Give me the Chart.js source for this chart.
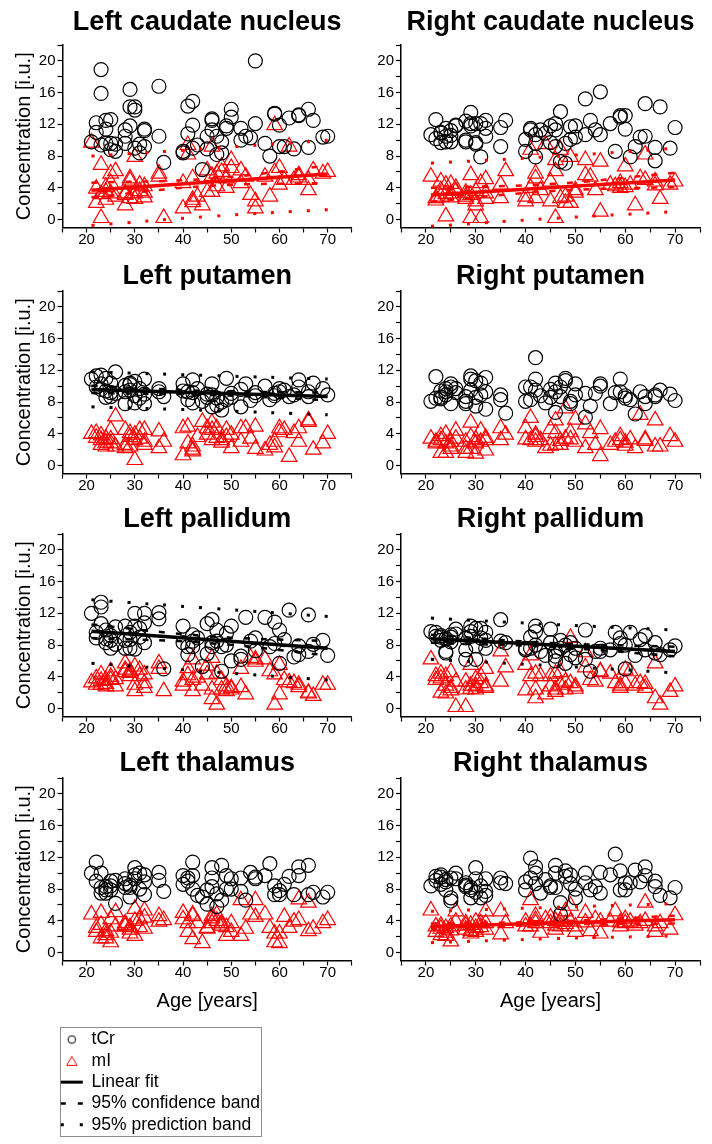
<!DOCTYPE html>
<html>
<head>
<meta charset="utf-8">
<script src="https://cdn.jsdelivr.net/npm/chart.js@4.4.0/dist/chart.umd.min.js"></script>
<style>
  html, body { margin: 0; padding: 0; background: #fff; width: 712px; height: 1144px; overflow: hidden; }
  canvas { position: absolute; }
  #legendBox { position: absolute; left: 60px; top: 1027px; width: 202px; height: 110px; border: 1px solid #8c8c8c; box-sizing: border-box; }
</style>
</head>
<body>
<canvas id="p0" width="362" height="253" style="left:0px;top:0px"></canvas>
<canvas id="p1" width="362" height="253" style="left:350px;top:0px"></canvas>
<canvas id="p2" width="362" height="253" style="left:0px;top:246px"></canvas>
<canvas id="p3" width="362" height="253" style="left:350px;top:246px"></canvas>
<canvas id="p4" width="362" height="253" style="left:0px;top:489px"></canvas>
<canvas id="p5" width="362" height="253" style="left:350px;top:489px"></canvas>
<canvas id="p6" width="362" height="283" style="left:0px;top:733px"></canvas>
<canvas id="p7" width="362" height="283" style="left:350px;top:733px"></canvas>
<div id="legendBox"></div>
<canvas id="legend" width="420" height="116" style="left:57px;top:1027px"></canvas>

<script>
// ages of the subjects (same people in every panel)
const ages = [21, 22, 22, 23, 23, 23, 24, 24, 24, 25, 25, 25, 26, 26,
  28, 28, 28, 29, 29, 29, 30, 30, 30, 31, 31, 32, 32, 32, 35, 35, 36,
  40, 40, 41, 41, 42, 42, 42, 43, 44, 45, 45, 46, 46, 46, 47, 47, 48, 48, 49, 49, 50, 50,
  52, 52, 53, 54, 55, 55, 57, 58, 59, 59, 60, 60, 61, 62, 63, 64, 64, 66, 66, 67, 69, 70];

const leftCaudateTCr = [9.8, 12.2, 11.0, 18.9, 15.9, 9.4, 12.5, 11.4, 9.6, 12.6, 9.6, 8.8, 9.5, 8.6,
  11.3, 10.5, 9.6, 16.4, 14.2, 11.8, 14.2, 13.8, 9.0, 9.5, 8.4, 11.4, 9.2, 11.2, 16.8, 10.5, 7.2,
  8.4, 8.6, 14.3, 10.8, 14.9, 11.9, 9.0, 9.4, 6.3, 10.5, 8.9, 12.7, 11.3, 12.5, 10.5, 8.2, 9.8, 8.4, 11.8, 11.5, 13.9, 12.9,
  11.5, 10.0, 10.5, 10.3, 20.0, 12.1, 9.6, 8.0, 13.4, 13.3, 11.9, 9.2, 9.2, 12.8, 8.9, 13.2, 13.1, 13.9, 9.1, 12.5, 10.4, 10.5];
const leftCaudateMI = [9.7, 2.1, 3.9, 6.9, 0.2, 3.2, 2.5, 3.5, 4.1, 5.8, 3.3, 4.6, 6.1, 2.9,
  1.8, 3.1, 3.3, 5.2, 2.7, 4.9, 7.9, 3.3, 2.6, 4.4, 3.6, 2.8, 4.2, 3.4, 5.8, 5.4, 0.2,
  1.4, 4.6, 9.4, 8.2, 5.2, 2.5, 2.2, 2.9, 1.8, 6.2, 3.5, 9.2, 3.5, 5.5, 5.8, 4.2, 6.7, 6.0, 4.0, 5.2, 7.5, 6.5,
  6.2, 4.6, 5.4, 3.1, 2.3, 1.4, 5.4, 2.9, 11.9, 6.0, 6.5, 4.4, 5.0, 9.2, 5.0, 5.6, 5.3, 5.0, 3.7, 6.2, 5.8, 6.0];

const rightCaudateTCr = [10.7, 12.6, 10.2, 9.7, 10.9, 11.0, 11.5, 10.5, 9.8, 11.2, 9.8, 10.6, 11.9, 11.8,
  12.4, 9.8, 10.0, 13.5, 12.1, 11.8, 12.1, 9.7, 9.5, 12.1, 7.9, 12.5, 11.5, 10.5, 11.6, 9.2, 12.5,
  10.1, 8.6, 11.5, 11.3, 10.7, 9.6, 7.9, 11.3, 10.9, 11.8, 9.7, 12.1, 11.3, 9.2, 13.6, 7.3, 9.6, 7.1, 11.7, 10.1, 11.8, 10.4,
  15.2, 10.7, 12.5, 11.3, 16.1, 10.7, 12.1, 8.6, 13.1, 12.9, 13.1, 11.4, 7.9, 9.2, 10.4, 14.6, 10.5, 7.4, 9.1, 14.2, 9.0, 11.6];
const rightCaudateMI = [5.4, 2.7, 2.4, 4.8, 3.7, 2.9, 0.4, 4.4, 3.2, 4.5, 3.3, 2.8, 3.6, 4.0,
  2.9, 3.4, 2.6, 5.6, 0.2, 3.1, 2.3, 1.8, 3.6, 0.2, 4.6, 5.1, 2.6, 3.3, 4.4, 2.7, 6.1,
  2.9, 2.3, 8.8, 4.0, 5.8, 5.2, 2.7, 3.7, 9.5, 4.8, 2.3, 7.5, 6.1, 0.2, 8.8, 2.7, 2.9, 2.1, 7.9, 2.1, 3.7, 3.4,
  5.6, 7.5, 5.4, 3.7, 7.3, 1.0, 4.4, 4.2, 4.6, 4.0, 6.7, 4.1, 4.4, 1.8, 5.2, 8.2, 5.0, 4.8, 4.3, 2.6, 4.4, 4.8];

const leftPutamenTCr = [10.9, 11.3, 9.9, 11.4, 10.3, 9.6, 11.0, 8.6, 9.4, 10.4, 8.7, 9.2, 11.8, 9.1,
  10.1, 7.8, 9.3, 10.4, 9.5, 10.2, 10.6, 7.9, 8.8, 9.7, 8.5, 10.9, 7.8, 9.0, 9.7, 9.3, 8.7,
  10.3, 9.4, 9.3, 8.3, 10.8, 7.9, 9.2, 9.7, 8.1, 9.0, 8.6, 10.3, 7.4, 8.9, 7.6, 8.5, 7.0, 8.0, 11.0, 8.3, 9.1, 8.6,
  9.6, 7.4, 10.3, 8.2, 9.2, 8.8, 10.0, 8.3, 9.1, 8.8, 9.7, 9.3, 9.5, 8.7, 8.9, 10.8, 9.9, 9.3, 8.7, 10.4, 9.7, 8.9];
const leftPutamenMI = [4.0, 4.1, 3.5, 3.2, 2.6, 3.8, 3.4, 2.9, 2.4, 4.5, 2.8, 3.3, 6.2, 2.4,
  4.5, 2.6, 2.2, 3.6, 4.1, 2.4, 3.2, 0.7, 3.9, 4.5, 3.4, 4.5, 3.0, 2.6, 4.3, 2.2, 3.0,
  4.7, 1.3, 4.9, 2.8, 2.0, 2.4, 1.8, 3.6, 5.5, 4.7, 3.9, 5.4, 3.2, 4.5, 4.7, 3.5, 3.2, 2.9, 4.5, 3.6, 3.9, 2.2,
  4.7, 3.0, 4.7, 3.4, 4.9, 2.1, 1.9, 2.6, 3.0, 2.3, 4.7, 4.2, 4.5, 1.1, 4.1, 4.7, 3.0, 5.7, 5.5, 2.0, 2.8, 4.0];

const rightPutamenTCr = [8.1, 11.2, 8.5, 8.6, 9.4, 8.4, 8.9, 9.7, 9.3, 10.3, 7.8, 9.9, 9.7, 9.2,
  8.7, 7.8, 8.1, 11.3, 10.9, 9.5, 10.7, 8.6, 7.5, 10.4, 8.9, 11.1, 9.3, 7.1, 8.9, 8.3, 6.6,
  9.9, 8.1, 9.9, 8.3, 13.6, 10.9, 9.5, 8.8, 7.9, 9.6, 8.6, 10.4, 9.3, 6.7, 9.9, 8.7, 11.0, 10.7, 8.1, 7.8, 10.3, 8.9,
  9.1, 6.1, 7.5, 9.1, 10.3, 10.0, 7.8, 9.2, 10.9, 9.3, 8.8, 8.5, 8.3, 6.5, 9.3, 8.7, 7.8, 8.7, 8.9, 9.5, 9.0, 8.2];
const rightPutamenMI = [3.4, 3.0, 2.8, 3.2, 1.6, 3.7, 4.0, 1.6, 2.8, 2.4, 3.0, 2.1, 4.4, 3.4,
  3.0, 1.6, 2.1, 5.4, 3.6, 2.1, 2.8, 1.5, 3.3, 4.4, 3.0, 3.2, 1.9, 3.5, 4.7, 3.2, 3.9,
  4.7, 3.3, 6.0, 3.2, 3.6, 3.0, 3.9, 3.2, 2.2, 4.6, 2.5, 5.7, 4.1, 2.6, 2.6, 3.1, 7.2, 3.4, 4.2, 3.3, 5.8, 3.0,
  5.2, 2.2, 4.1, 2.6, 4.6, 1.2, 2.6, 3.0, 3.7, 3.2, 2.5, 2.9, 3.3, 2.2, 6.4, 3.3, 3.1, 5.7, 2.4, 2.4, 3.7, 3.0];

const leftPallidumTCr = [12.0, 8.9, 9.6, 13.4, 12.8, 10.7, 9.9, 8.3, 8.8, 7.6, 8.6, 9.2, 10.3, 8.1,
  10.4, 8.6, 7.6, 9.6, 8.7, 7.6, 12.0, 10.4, 7.5, 10.1, 9.0, 12.0, 10.8, 8.3, 12.1, 11.3, 5.0,
  10.4, 8.3, 6.8, 7.8, 9.3, 7.8, 8.5, 8.9, 5.3, 10.7, 6.9, 11.2, 7.8, 8.3, 9.9, 8.5, 4.7, 7.8, 9.5, 8.0, 10.4, 6.0,
  6.6, 6.2, 11.5, 8.5, 8.9, 7.3, 11.5, 7.8, 10.9, 8.2, 9.9, 5.7, 8.7, 12.4, 6.5, 7.9, 6.8, 11.8, 7.2, 8.1, 8.6, 6.7];
const leftPallidumMI = [3.3, 3.0, 3.8, 4.3, 3.0, 3.5, 3.6, 2.8, 3.1, 4.7, 3.6, 4.0, 3.7, 2.8,
  5.7, 4.6, 4.9, 4.7, 4.1, 4.5, 5.3, 3.0, 2.2, 4.9, 4.1, 4.3, 3.2, 2.6, 5.7, 5.0, 2.2,
  3.4, 2.9, 5.1, 4.2, 6.2, 2.2, 3.6, 3.9, 2.9, 5.4, 4.3, 6.4, 2.4, 1.2, 0.5, 4.4, 3.6, 2.4, 2.2, 2.8, 2.4, 2.6,
  5.0, 2.7, 1.8, 6.4, 6.2, 5.9, 6.2, 4.7, 0.5, 4.3, 5.5, 1.8, 3.6, 3.3, 3.2, 3.0, 2.7, 2.0, 1.9, 1.6, 3.0, 3.0];

const rightPallidumTCr = [9.7, 9.6, 9.1, 9.2, 8.6, 9.0, 7.2, 7.0, 8.8, 9.3, 8.4, 9.0, 10.0, 9.4,
  8.9, 7.4, 6.2, 10.4, 9.7, 9.1, 10.1, 7.9, 6.2, 10.1, 8.9, 9.6, 7.6, 8.6, 11.2, 8.5, 8.3,
  7.6, 7.4, 9.0, 7.6, 10.4, 9.7, 8.0, 7.2, 6.7, 10.0, 8.3, 7.2, 6.0, 6.6, 8.6, 7.6, 5.7, 8.0, 6.8, 8.3, 7.6, 6.4,
  9.9, 6.2, 4.7, 7.2, 7.2, 7.6, 7.4, 9.6, 8.9, 8.2, 5.0, 8.0, 9.6, 6.7, 8.7, 9.2, 7.4, 8.3, 7.0, 6.8, 7.4, 7.9];
const rightPallidumMI = [6.2, 4.1, 3.6, 4.4, 2.0, 3.8, 4.1, 2.9, 1.9, 4.6, 2.6, 2.3, 3.4, 0.2,
  3.4, 2.4, 0.2, 5.5, 2.9, 2.5, 3.7, 2.4, 2.8, 4.1, 3.2, 5.0, 2.8, 2.6, 7.2, 3.4, 5.2,
  5.5, 2.3, 6.7, 4.1, 4.4, 2.4, 1.3, 4.1, 1.8, 4.1, 2.8, 4.4, 2.4, 2.1, 4.6, 3.0, 3.4, 2.4, 8.9, 3.2, 2.8, 2.5,
  7.1, 5.2, 3.6, 3.4, 4.6, 4.7, 4.4, 3.2, 2.6, 2.9, 4.9, 3.2, 4.7, 2.9, 3.2, 3.1, 2.6, 5.7, 1.3, 0.5, 2.1, 2.8];

const leftThalamusTCr = [10.0, 11.4, 9.0, 10.0, 8.2, 7.5, 8.3, 7.5, 7.9, 9.0, 7.9, 8.4, 9.1, 6.2,
  9.3, 8.2, 8.7, 8.2, 7.0, 8.5, 10.7, 9.3, 9.8, 10.0, 8.0, 9.8, 8.9, 7.3, 10.1, 9.1, 7.7,
  9.7, 8.6, 9.4, 9.0, 11.4, 9.7, 8.0, 7.2, 7.0, 7.9, 6.1, 10.7, 9.4, 8.3, 7.4, 5.8, 11.0, 6.6, 9.7, 8.0, 9.3, 8.0,
  9.4, 7.7, 6.6, 10.1, 9.3, 9.5, 9.7, 11.2, 8.4, 7.3, 7.3, 7.8, 8.6, 9.6, 7.3, 10.8, 9.7, 11.0, 7.3, 7.6, 7.0, 7.6];
const leftThalamusMI = [4.8, 3.1, 2.6, 5.0, 3.5, 1.8, 2.7, 1.8, 2.2, 4.2, 2.5, 1.3, 5.1, 3.3,
  3.7, 3.3, 3.5, 2.9, 2.4, 3.2, 5.5, 2.1, 4.0, 4.2, 3.2, 5.3, 4.4, 3.0, 4.6, 3.9, 4.1,
  5.0, 4.2, 2.6, 3.7, 4.8, 1.7, 4.6, 3.7, 1.2, 3.1, 3.0, 4.6, 3.7, 4.3, 4.8, 4.0, 3.7, 3.4, 2.1, 3.2, 3.7, 2.6,
  6.6, 2.1, 3.0, 4.8, 6.6, 4.5, 4.8, 3.1, 2.4, 1.3, 1.2, 2.4, 4.5, 3.1, 3.9, 6.7, 4.1, 6.3, 2.7, 3.0, 3.7, 4.1];

const rightThalamusTCr = [8.4, 9.6, 9.1, 9.8, 8.6, 9.5, 9.2, 7.9, 8.9, 9.4, 6.9, 6.5, 10.0, 9.3,
  8.8, 8.3, 8.5, 8.2, 6.9, 7.9, 10.7, 9.3, 7.6, 8.4, 6.9, 9.3, 7.7, 7.2, 9.4, 8.8, 8.7,
  8.9, 7.9, 11.9, 9.4, 10.8, 10.0, 8.7, 7.5, 9.2, 8.4, 8.2, 11.0, 10.0, 8.2, 6.3, 4.8, 10.3, 9.6, 9.8, 8.7, 8.0, 6.9,
  10.0, 8.8, 7.9, 8.3, 10.1, 7.5, 9.8, 12.4, 10.3, 7.9, 8.8, 7.9, 8.8, 10.4, 8.9, 10.8, 9.7, 9.0, 8.3, 7.2, 6.9, 8.2];
const rightThalamusMI = [5.3, 3.3, 2.6, 3.4, 3.0, 2.2, 2.1, 3.1, 2.5, 3.3, 1.4, 2.8, 5.2, 3.9,
  3.7, 2.9, 3.4, 2.7, 3.5, 2.4, 3.9, 3.1, 2.6, 3.7, 3.2, 5.2, 3.7, 2.9, 5.2, 2.3, 3.7,
  3.3, 3.9, 6.6, 3.3, 4.6, 3.7, 4.1, 2.5, 4.2, 4.4, 3.7, 2.9, 3.4, 4.0, 3.9, 3.3, 5.2, 3.6, 5.9, 3.9, 3.3, 2.6,
  5.0, 3.8, 2.7, 4.2, 2.4, 3.9, 3.9, 5.2, 3.3, 3.8, 3.7, 4.2, 3.9, 3.4, 3.7, 6.3, 4.0, 3.3, 2.6, 3.7, 2.9, 4.7];

// fitted lines: values at fitAges, bands at bandAges
const fitAges = [21, 70];
const bandAges = [21, 45.5, 70];

const leftCaudateFit = [3.7, 5.75];
const leftCaudateConfHigh = [4.65, 5.15, 6.8];
const leftCaudateConfLow = [2.8, 4.25, 4.6];
const leftCaudatePredHigh = [8.0, 8.95, 10.0];
const leftCaudatePredLow = [-0.75, 0.4, 1.25];

const rightCaudateFit = [3.1, 5.0];
const rightCaudateConfHigh = [4.0, 4.5, 5.9];
const rightCaudateConfLow = [2.25, 3.6, 4.1];
const rightCaudatePredHigh = [7.1, 7.95, 9.0];
const rightCaudatePredLow = [-0.85, 0.15, 1.0];

const leftPutamenFit = [9.6, 8.7];
const leftPutamenConfHigh = [10.05, 9.4, 9.2];
const leftPutamenConfLow = [9.15, 8.9, 8.25];
const leftPutamenPredHigh = [11.8, 11.35, 10.9];
const leftPutamenPredLow = [7.4, 6.95, 6.4];

const leftPallidumFit = [9.75, 7.6];
const leftPallidumConfHigh = [10.6, 9.1, 8.5];
const leftPallidumConfLow = [8.9, 8.25, 6.7];
const leftPallidumPredHigh = [13.7, 12.65, 11.6];
const leftPallidumPredLow = [5.7, 4.65, 3.6];

const rightPallidumFit = [8.8, 7.2];
const rightPallidumConfHigh = [9.3, 8.25, 7.8];
const rightPallidumConfLow = [8.3, 7.75, 6.6];
const rightPallidumPredHigh = [11.4, 10.6, 9.9];
const rightPallidumPredLow = [6.2, 5.4, 4.5];

const rightThalamusFit = [3.3, 4.15];
const rightThalamusConfHigh = [3.65, 3.92, 4.65];
const rightThalamusConfLow = [2.95, 3.52, 3.65];
const rightThalamusPredHigh = [5.2, 5.7, 6.15];
const rightThalamusPredLow = [1.25, 1.75, 2.1];

const legendLabels = ['tCr', 'mI', 'Linear fit', '95% confidence band', '95% prediction band'];

Chart.defaults.font.family = "'Liberation Sans', Arial, Helvetica, sans-serif";
Chart.defaults.color = '#000';

const BLACK = '#000000';
const RED = '#ff0000';

function pairs(xs, ys) {
  return xs.map((x, i) => ({ x: x, y: ys[i] }));
}

function lineSet(xs, ys, color, width, dash) {
  return {
    data: pairs(xs, ys),
    showLine: true,
    pointRadius: 0,
    borderColor: color,
    backgroundColor: color,
    borderWidth: width,
    borderDash: dash,
    tension: 0.4,
    fill: false
  };
}

const panels = [
  { id: 'p0', col: 0, row: 0, title: 'Left caudate nucleus', tCr: leftCaudateTCr, mI: leftCaudateMI,
    fitColor: RED, fit: leftCaudateFit, confHigh: leftCaudateConfHigh, confLow: leftCaudateConfLow,
    predHigh: leftCaudatePredHigh, predLow: leftCaudatePredLow },
  { id: 'p1', col: 1, row: 0, title: 'Right caudate nucleus', tCr: rightCaudateTCr, mI: rightCaudateMI,
    fitColor: RED, fit: rightCaudateFit, confHigh: rightCaudateConfHigh, confLow: rightCaudateConfLow,
    predHigh: rightCaudatePredHigh, predLow: rightCaudatePredLow },
  { id: 'p2', col: 0, row: 1, title: 'Left putamen', tCr: leftPutamenTCr, mI: leftPutamenMI,
    fitColor: BLACK, fit: leftPutamenFit, confHigh: leftPutamenConfHigh, confLow: leftPutamenConfLow,
    predHigh: leftPutamenPredHigh, predLow: leftPutamenPredLow },
  { id: 'p3', col: 1, row: 1, title: 'Right putamen', tCr: rightPutamenTCr, mI: rightPutamenMI },
  { id: 'p4', col: 0, row: 2, title: 'Left pallidum', tCr: leftPallidumTCr, mI: leftPallidumMI,
    fitColor: BLACK, fit: leftPallidumFit, confHigh: leftPallidumConfHigh, confLow: leftPallidumConfLow,
    predHigh: leftPallidumPredHigh, predLow: leftPallidumPredLow },
  { id: 'p5', col: 1, row: 2, title: 'Right pallidum', tCr: rightPallidumTCr, mI: rightPallidumMI,
    fitColor: BLACK, fit: rightPallidumFit, confHigh: rightPallidumConfHigh, confLow: rightPallidumConfLow,
    predHigh: rightPallidumPredHigh, predLow: rightPallidumPredLow },
  { id: 'p6', col: 0, row: 3, title: 'Left thalamus', tCr: leftThalamusTCr, mI: leftThalamusMI },
  { id: 'p7', col: 1, row: 3, title: 'Right thalamus', tCr: rightThalamusTCr, mI: rightThalamusMI,
    fitColor: RED, fit: rightThalamusFit, confHigh: rightThalamusConfHigh, confLow: rightThalamusConfLow,
    predHigh: rightThalamusPredHigh, predLow: rightThalamusPredLow }
];

function buildPanel(p) {
  const datasets = [];
  if (p.fit) {
    datasets.push(lineSet(fitAges, p.fit, p.fitColor, 3.5, []));
    datasets.push(lineSet(bandAges, p.confHigh, p.fitColor, 2.5, [6, 11]));
    datasets.push(lineSet(bandAges, p.confLow, p.fitColor, 2.5, [6, 11]));
    datasets.push(lineSet(bandAges, p.predHigh, p.fitColor, 3, [3, 15]));
    datasets.push(lineSet(bandAges, p.predLow, p.fitColor, 3, [3, 15]));
  }
  datasets.push({
    label: 'tCr', data: pairs(ages, p.tCr), pointStyle: 'circle', pointRadius: 7,
    borderColor: BLACK, backgroundColor: 'rgba(0,0,0,0)', borderWidth: 1.2
  });
  datasets.push({
    label: 'mI', data: pairs(ages, p.mI), pointStyle: 'triangle', pointRadius: 9,
    borderColor: RED, backgroundColor: 'rgba(0,0,0,0)', borderWidth: 1.2
  });

  const last = p.row === 3;
  const axisGrid = { drawOnChartArea: false, drawTicks: true, tickLength: 5, color: BLACK, tickWidth: 1.2 };
  const axisBorder = { display: true, color: BLACK, width: 1.5 };

  new Chart(document.getElementById(p.id), {
    type: 'scatter',
    data: { datasets: datasets },
    options: {
      responsive: false,
      animation: false,
      events: [],
      layout: { padding: { left: 0, right: p.col === 0 ? 4 : 12, top: 0, bottom: 0 } },
      plugins: {
        legend: { display: false },
        tooltip: { enabled: false },
        title: {
          display: true, text: p.title, fullSize: false, color: BLACK,
          font: { size: 27, weight: 'bold', lineHeight: 1 },
          padding: p.row === 0 ? { top: 9, bottom: 9 } : { top: 17, bottom: 1 }
        }
      },
      scales: {
        x: {
          type: 'linear', min: 15, max: 75,
          ticks: {
            stepSize: 5, autoSkip: false, maxRotation: 0, padding: 0,
            font: { size: 15, lineHeight: 1 }, color: BLACK,
            callback: (v) => (v % 10 === 0 ? v : '')
          },
          grid: axisGrid,
          border: axisBorder,
          title: {
            display: last, text: 'Age [years]', color: BLACK,
            font: { size: 20 }, padding: { top: 0, bottom: 2.8 }
          },
          afterFit: (s) => { s.height = last ? 55.5 : 25.5; }
        },
        y: {
          type: 'linear', min: -1, max: 22,
          ticks: {
            stepSize: 2, includeBounds: false, autoSkip: false, padding: 2,
            font: { size: 15 }, color: BLACK,
            callback: (v) => (v % 4 === 0 ? v : '')
          },
          grid: axisGrid,
          border: axisBorder,
          title: {
            display: p.col === 0, text: 'Concentration [i.u.]', color: BLACK,
            font: { size: 20 }, padding: { top: 12, bottom: 0 }
          },
          afterFit: (s) => { s.width = p.col === 0 ? 62.5 : 51; }
        }
      }
    }
  });
}

panels.forEach(buildPanel);

// legend symbols for the two marker types
function markerIcon(style, color) {
  const c = document.createElement('canvas');
  c.width = 14;
  c.height = 12;
  const g = c.getContext('2d');
  g.strokeStyle = color;
  g.lineWidth = 1;
  g.beginPath();
  if (style === 'circle') {
    g.arc(7, 6, 3.8, 0, Math.PI * 2);
  } else {
    g.moveTo(7, 1.5);
    g.lineTo(12.2, 10.5);
    g.lineTo(1.8, 10.5);
    g.closePath();
  }
  g.stroke();
  return c;
}

const legendItems = [
  { text: legendLabels[0], pointStyle: markerIcon('circle', BLACK), strokeStyle: BLACK, fillStyle: 'rgba(0,0,0,0)', lineWidth: 1 },
  { text: legendLabels[1], pointStyle: markerIcon('triangle', RED), strokeStyle: RED, fillStyle: 'rgba(0,0,0,0)', lineWidth: 1 },
  { text: legendLabels[2], pointStyle: 'line', strokeStyle: BLACK, fillStyle: 'rgba(0,0,0,0)', lineWidth: 3 },
  { text: legendLabels[3], pointStyle: 'line', strokeStyle: BLACK, fillStyle: 'rgba(0,0,0,0)', lineWidth: 2.5, lineDash: [5, 12] },
  { text: legendLabels[4], pointStyle: 'line', strokeStyle: BLACK, fillStyle: 'rgba(0,0,0,0)', lineWidth: 3, lineDash: [3, 16] }
];

new Chart(document.getElementById('legend'), {
  type: 'scatter',
  data: { datasets: [] },
  options: {
    responsive: false,
    animation: false,
    events: [],
    layout: { padding: 0 },
    scales: { x: { display: false }, y: { display: false } },
    plugins: {
      tooltip: { enabled: false },
      legend: {
        display: true, position: 'left', align: 'start', maxWidth: 300,
        labels: {
          usePointStyle: true, pointStyleWidth: 22, boxHeight: 9, padding: 3.8,
          color: BLACK, font: { size: 17.5 },
          generateLabels: () => legendItems
        }
      }
    }
  }
});
</script>
</body>
</html>
